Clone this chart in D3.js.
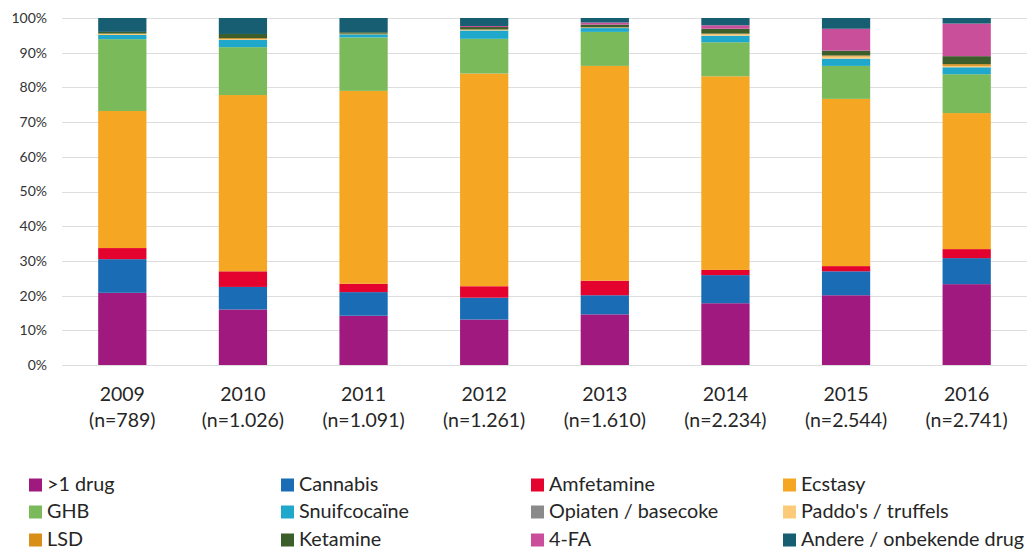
<!DOCTYPE html>
<html>
<head>
<meta charset="utf-8">
<script src="https://cdn.jsdelivr.net/npm/d3@7"></script>
<style>
  html, body { margin: 0; padding: 0; background: #fff; }
  svg { display: block; font-family: Lato, "Open Sans", sans-serif; }
</style>
</head>
<body>
<svg id="chart" width="1029" height="550"></svg>
<script>
// Survey years and number of samples per year
const years = ["2009", "2010", "2011", "2012", "2013", "2014", "2015", "2016"];
const sampleSizes = ["789", "1.026", "1.091", "1.261", "1.610", "2.234", "2.544", "2.741"];

// Share per substance (%), one value per year
const meerDrugs   = [20.8, 16.0, 14.2, 13.1, 14.6, 17.8, 20.1, 23.3];
const cannabis    = [ 9.7,  6.5,  6.8,  6.3,  5.5,  8.1,  6.9,  7.5];
const amfetamine  = [ 3.2,  4.5,  2.4,  3.3,  4.2,  1.5,  1.5,  2.6];
const ecstasy     = [39.5, 50.8, 55.6, 61.3, 61.9, 55.8, 48.2, 39.2];
const ghb         = [20.7, 13.8, 15.4, 10.0,  9.8,  9.8,  9.5, 11.2];
const snuifcoke   = [ 1.2,  2.1,  0.9,  2.4,  1.1,  1.9,  2.1,  2.0];
const opiaten     = [ 0.0,  0.0,  0.0,  0.0,  0.0,  0.0,  0.0,  0.0];
const paddos      = [ 0.4,  0.2,  0.0,  0.2,  0.2,  0.4,  0.6,  0.4];
const lsd         = [ 0.0,  0.3,  0.2,  0.1,  0.0,  0.2,  0.3,  0.5];
const ketamine    = [ 0.5,  1.2,  0.4,  0.7,  0.8,  1.4,  1.4,  2.3];
const fourFA      = [ 0.0,  0.0,  0.0,  0.3,  0.6,  1.0,  6.3,  9.4];
const andere      = [ 4.0,  4.6,  4.1,  2.3,  1.3,  2.1,  3.1,  1.6];

const seriesNames = [">1 drug", "Cannabis", "Amfetamine", "Ecstasy", "GHB", "Snuifcocaïne",
  "Opiaten / basecoke", "Paddo's / truffels", "LSD", "Ketamine", "4-FA", "Andere / onbekende drug"];
const seriesValues = [meerDrugs, cannabis, amfetamine, ecstasy, ghb, snuifcoke,
  opiaten, paddos, lsd, ketamine, fourFA, andere];
const seriesColors = ["#a0197f", "#1a6db5", "#e4032e", "#f5a623", "#7aba5a", "#1fa8cc",
  "#8a8a8a", "#fbcb7a", "#d98e1a", "#3b5e2b", "#c94f9a", "#175e72"];

const yTicks = [0, 10, 20, 30, 40, 50, 60, 70, 80, 90, 100];

// Build a row per year for the stack layout
const rows = years.map((yr, i) => {
  const r = { year: yr };
  seriesNames.forEach((name, s) => { r[name] = seriesValues[s][i]; });
  return r;
});

const svg = d3.select("#chart");
const plot = { left: 62, right: 1027, top: 18, bottom: 365 };

const x = d3.scaleBand()
  .domain(years)
  .range([plot.left, plot.right])
  .paddingInner(0.6)
  .paddingOuter(0.3);

const y = d3.scaleLinear()
  .domain([0, 100])
  .range([plot.bottom, plot.top]);

const color = d3.scaleOrdinal().domain(seriesNames).range(seriesColors);

// Horizontal gridlines
svg.append("g")
  .selectAll("line")
  .data(yTicks)
  .join("line")
  .attr("x1", plot.left)
  .attr("x2", plot.right)
  .attr("y1", d => Math.round(y(d)) + 0.5)
  .attr("y2", d => Math.round(y(d)) + 0.5)
  .attr("stroke", "#dedede")
  .attr("stroke-width", 1);

// Y axis labels
const yAxis = d3.axisLeft(y)
  .tickValues(yTicks)
  .tickFormat(d => d + "%")
  .tickSize(0)
  .tickPadding(15);
const yG = svg.append("g")
  .attr("transform", `translate(${plot.left},0)`)
  .call(yAxis);
yG.select(".domain").remove();
yG.selectAll("text")
  .attr("font-family", "Lato, 'Open Sans', sans-serif")
  .attr("font-size", 14)
  .attr("fill", "#333");

// Stacked bars
const stack = d3.stack().keys(seriesNames);
const stacked = stack(rows);

svg.append("g")
  .selectAll("g")
  .data(stacked)
  .join("g")
  .attr("fill", d => color(d.key))
  .selectAll("rect")
  .data(d => d)
  .join("rect")
  .attr("x", d => x(d.data.year))
  .attr("width", x.bandwidth())
  .attr("y", d => y(d[1]))
  .attr("height", d => Math.max(0, y(d[0]) - y(d[1])));

// X axis labels: year and sample size
const xLabels = svg.append("g")
  .selectAll("text")
  .data(years)
  .join("text")
  .attr("text-anchor", "middle")
  .attr("font-size", 19.5)
  .attr("fill", "#262626")
  .attr("x", d => x(d) + x.bandwidth() / 2);
xLabels.append("tspan")
  .attr("y", 401)
  .text(d => d);
xLabels.append("tspan")
  .attr("x", d => x(d) + x.bandwidth() / 2)
  .attr("y", 427)
  .text((d, i) => `(n=${sampleSizes[i]})`);

// Legend: 4 columns x 3 rows
const legendCols = [29, 281, 531, 783];
const legendRows = [491, 518, 546];
const legend = svg.append("g")
  .selectAll("g")
  .data(seriesNames)
  .join("g")
  .attr("transform", (d, i) => `translate(${legendCols[i % 4]},${legendRows[Math.floor(i / 4)]})`);
legend.append("rect")
  .attr("x", 0)
  .attr("y", -12.5)
  .attr("width", 13)
  .attr("height", 13)
  .attr("fill", d => color(d));
legend.append("text")
  .attr("x", 18)
  .attr("y", 0)
  .attr("font-size", 19.8)
  .attr("fill", "#262626")
  .text(d => d);
</script>
</body>
</html>
